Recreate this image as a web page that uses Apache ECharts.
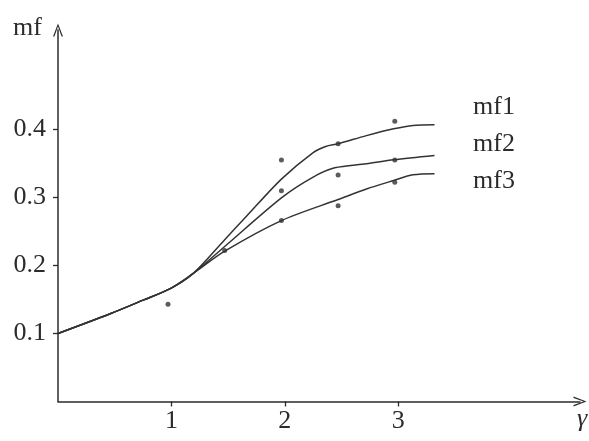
<!DOCTYPE html>
<html>
<head>
<meta charset="utf-8">
<script src="https://cdn.jsdelivr.net/npm/echarts@6/dist/echarts.min.js"></script>
<style>
html,body{margin:0;padding:0;background:#fff;}
#c{width:589px;height:441px;}
</style>
</head>
<body>
<div id="c"></div>
<script>
// ---- data ----
const xTicks = [1, 2, 3];
const yTicks = [0.1, 0.2, 0.3, 0.4];
const seriesNames = ['mf1', 'mf2', 'mf3'];
const xName = 'γ';
const yName = 'mf';

// shared part of the three curves (x = gamma, y = mf)
const commonCurve = [[0, 0.100], [0.46, 0.129], [0.75, 0.149], [0.99, 0.166], [1.19, 0.188]];
// branches after the split
const mf1Branch = [[1.47, 0.238], [1.66, 0.272], [1.97, 0.327], [2.25, 0.366], [2.36, 0.375], [2.47, 0.379], [2.72, 0.391], [2.96, 0.401], [3.13, 0.406], [3.32, 0.407]];
const mf2Branch = [[1.47, 0.228], [1.97, 0.2995], [2.25, 0.330], [2.44, 0.3436], [2.72, 0.3495], [2.96, 0.3554], [3.32, 0.3618]];
const mf3Branch = [[1.47, 0.221], [1.97, 0.266], [2.47, 0.297], [2.72, 0.3125], [2.96, 0.325], [3.13, 0.3333], [3.32, 0.335]];

// measured points
const commonObs = [[0.97, 0.143], [1.47, 0.222]];
const mf1Obs = [[1.97, 0.355], [2.47, 0.379], [2.97, 0.412]];
const mf2Obs = [[1.97, 0.310], [2.47, 0.333], [2.97, 0.355]];
const mf3Obs = [[1.97, 0.266], [2.47, 0.288], [2.97, 0.3225]];

// ---- chart ----
const FONT = '"Liberation Serif", "DejaVu Serif", serif';
const INK = '#2b2b2b';
const arrowPath = 'path://M5,0 L10,13 L8.6,13 L5,3 L1.4,13 L0,13 Z';

const chart = echarts.init(document.getElementById('c'), null, {renderer: 'canvas'});

const branches = [mf1Branch, mf2Branch, mf3Branch];
const lineSeries = branches.map((b, i) => ({
  name: seriesNames[i],
  type: 'line',
  data: commonCurve.concat(b),
  smooth: 0.3,
  showSymbol: false,
  lineStyle: {color: '#333', width: 1.5},
  silent: true,
  animation: false
}));

const labelY = [109, 146, 183];

chart.setOption({
  animation: false,
  backgroundColor: '#fff',
  grid: {left: 58, right: 9, top: 30, bottom: 39.5, containLabel: false},
  xAxis: {
    type: 'value', min: 0, max: 4.603,
    axisLine: {show: true, onZero: false, symbol: ['none', arrowPath], symbolSize: [10, 14], lineStyle: {color: INK, width: 1.5}},
    axisTick: {show: true, inside: false, length: 5, customValues: xTicks, lineStyle: {color: INK, width: 1.3}},
    axisLabel: {customValues: xTicks, margin: 7, fontFamily: FONT, fontSize: 26, color: INK, formatter: v => String(v)},
    splitLine: {show: false}
  },
  yAxis: {
    type: 'value', min: 0, max: 0.5463,
    name: yName, nameLocation: 'end', nameGap: 1.5,
    nameTextStyle: {fontFamily: FONT, fontSize: 26, color: INK, align: 'right', verticalAlign: 'middle', padding: [0, 16, 0, 0]},
    axisLine: {show: true, onZero: false, symbol: ['none', arrowPath], symbolSize: [10, 14], lineStyle: {color: INK, width: 1.5}},
    axisTick: {show: true, inside: false, length: 5, customValues: yTicks, lineStyle: {color: INK, width: 1.3}},
    axisLabel: {customValues: yTicks, margin: 12, fontFamily: FONT, fontSize: 26, color: INK, formatter: v => v.toFixed(1)},
    splitLine: {show: false}
  },
  series: lineSeries.concat([{
    name: 'measured',
    type: 'scatter',
    data: commonObs.concat(mf1Obs, mf2Obs, mf3Obs),
    symbol: 'circle',
    symbolSize: 5,
    itemStyle: {color: '#333'},
    silent: true,
    z: 5
  }]),
  graphic: seriesNames.map((n, i) => ({
    type: 'text',
    left: 473,
    top: labelY[i] - 15,
    style: {text: n, font: '26px ' + FONT, fill: INK}
  })).concat([{
    type: 'text',
    x: 582, y: 419,
    style: {text: xName, font: 'italic 26px ' + FONT, fill: INK, align: 'center', verticalAlign: 'middle'}
  }])
});
</script>
</body>
</html>
